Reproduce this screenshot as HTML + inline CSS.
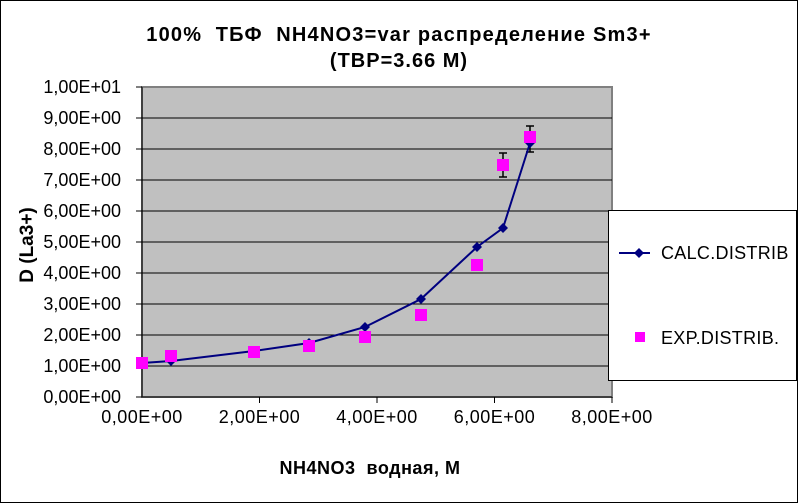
<!DOCTYPE html>
<html><head><meta charset="utf-8"><style>body{margin:0;background:#fff}svg{display:block}</style></head><body>
<svg width="798" height="503" xmlns="http://www.w3.org/2000/svg" font-family="Liberation Sans, sans-serif">
<rect x="0.5" y="0.5" width="797" height="502" fill="#fff" stroke="#000"/>
<text x="399" y="41" text-anchor="middle" font-size="20" font-weight="bold" letter-spacing="1.2" xml:space="preserve">100%  ТБФ  NH4NO3=var распределение Sm3+</text>
<text x="399" y="67" text-anchor="middle" font-size="20" font-weight="bold" letter-spacing="1">(TBP=3.66 M)</text>
<rect x="142" y="87" width="470" height="310" fill="#c0c0c0" stroke="#808080" stroke-width="2"/>
<g stroke="#000" stroke-width="1">
<line x1="142" x2="612" y1="118" y2="118"/><line x1="142" x2="612" y1="149" y2="149"/><line x1="142" x2="612" y1="180" y2="180"/><line x1="142" x2="612" y1="211" y2="211"/><line x1="142" x2="612" y1="242" y2="242"/><line x1="142" x2="612" y1="273" y2="273"/><line x1="142" x2="612" y1="304" y2="304"/><line x1="142" x2="612" y1="335" y2="335"/><line x1="142" x2="612" y1="366" y2="366"/>
<line x1="142" x2="142" y1="87" y2="397"/><line x1="142" x2="612" y1="397" y2="397"/>
<line x1="136" x2="142" y1="87" y2="87"/><line x1="136" x2="142" y1="118" y2="118"/><line x1="136" x2="142" y1="149" y2="149"/><line x1="136" x2="142" y1="180" y2="180"/><line x1="136" x2="142" y1="211" y2="211"/><line x1="136" x2="142" y1="242" y2="242"/><line x1="136" x2="142" y1="273" y2="273"/><line x1="136" x2="142" y1="304" y2="304"/><line x1="136" x2="142" y1="335" y2="335"/><line x1="136" x2="142" y1="366" y2="366"/><line x1="136" x2="142" y1="397" y2="397"/>
<line x1="259.5" x2="259.5" y1="397" y2="403"/><line x1="377" x2="377" y1="397" y2="403"/><line x1="494.5" x2="494.5" y1="397" y2="403"/><line x1="612" x2="612" y1="397" y2="403"/>
</g>
<g font-size="18" text-anchor="end">
<text x="121" y="93">1,00E+01</text><text x="121" y="124">9,00E+00</text><text x="121" y="155">8,00E+00</text><text x="121" y="186">7,00E+00</text><text x="121" y="217">6,00E+00</text><text x="121" y="248">5,00E+00</text><text x="121" y="279">4,00E+00</text><text x="121" y="310">3,00E+00</text><text x="121" y="341">2,00E+00</text><text x="121" y="372">1,00E+00</text><text x="121" y="403">0,00E+00</text>
</g>
<g font-size="18" text-anchor="middle" letter-spacing="0.5">
<text x="142" y="423">0,00E+00</text><text x="259.5" y="423">2,00E+00</text><text x="377" y="423">4,00E+00</text><text x="494.5" y="423">6,00E+00</text><text x="612" y="423">8,00E+00</text>
</g>
<text x="370" y="474" text-anchor="middle" font-size="18" font-weight="bold" letter-spacing="0.5" xml:space="preserve">NH4NO3  водная, М</text>
<text transform="translate(33,245) rotate(-90)" text-anchor="middle" font-size="19" font-weight="bold">D (La3+)</text>
<g stroke="#000" stroke-width="1.5">
<line x1="477" x2="477" y1="260" y2="269"/><line x1="473" x2="481" y1="260" y2="260"/><line x1="473" x2="481" y1="269" y2="269"/>
<line x1="503" x2="503" y1="153" y2="177"/><line x1="499" x2="507" y1="153" y2="153"/><line x1="499" x2="507" y1="177" y2="177"/>
<line x1="530" x2="530" y1="126" y2="152"/><line x1="526" x2="534" y1="126" y2="126"/><line x1="526" x2="534" y1="152" y2="152"/>
</g>
<polyline fill="none" stroke="#000080" stroke-width="2" points="142,363 171,361 254,351 309,343 365,327 421,299 477,247 503,228 530,143"/>
<g fill="#000080">
<path d="M142,358l5,5-5,5-5-5z"/><path d="M171,356l5,5-5,5-5-5z"/><path d="M254,346l5,5-5,5-5-5z"/><path d="M309,338l5,5-5,5-5-5z"/><path d="M365,322l5,5-5,5-5-5z"/><path d="M421,294l5,5-5,5-5-5z"/><path d="M477,242l5,5-5,5-5-5z"/><path d="M503,223l5,5-5,5-5-5z"/><path d="M530,138l5,5-5,5-5-5z"/>
</g>
<g fill="#ff00ff">
<rect x="136" y="357" width="12" height="12"/><rect x="165" y="350" width="12" height="12"/><rect x="248" y="346" width="12" height="12"/><rect x="303" y="340" width="12" height="12"/><rect x="359" y="331" width="12" height="12"/><rect x="415" y="309" width="12" height="12"/><rect x="471" y="259" width="12" height="12"/><rect x="497" y="159" width="12" height="12"/><rect x="524" y="131" width="12" height="12"/>
</g>
<rect x="608.5" y="210.5" width="188" height="170" fill="#fff" stroke="#000"/>
<line x1="619" x2="650" y1="253" y2="253" stroke="#000080" stroke-width="2"/>
<path d="M639,248l5,5-5,5-5-5z" fill="#000080"/>
<text x="661" y="259" font-size="18" letter-spacing="0.3">CALC.DISTRIB</text>
<rect x="635" y="332" width="10" height="10" fill="#ff00ff"/>
<text x="661" y="344" font-size="18" letter-spacing="0.3">EXP.DISTRIB.</text>
</svg>
</body></html>
